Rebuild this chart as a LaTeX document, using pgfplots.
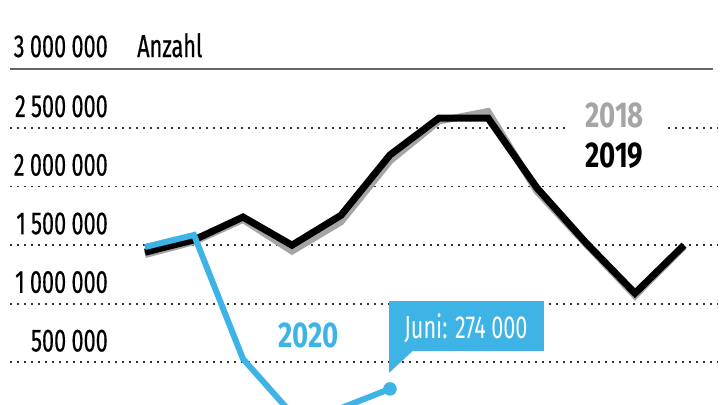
\documentclass[border=0pt]{standalone}
\usepackage{pgfplots}
\pgfplotsset{compat=1.18}
\usepackage{fontspec}
\setmainfont[FakeStretch=0.68]{Fira Sans}
\newfontfamily\lab[FakeStretch=0.68, FakeBold=0.5]{Fira Sans}
\newfontfamily\leg[FakeStretch=0.77]{Fira Sans}
\definecolor{cblue}{HTML}{3DB3E6}
\definecolor{cgray}{HTML}{A5A5A5}
\definecolor{cgrid}{HTML}{333333}
\begin{document}
\begin{tikzpicture}
\begin{axis}[
  width=720bp, height=405bp, scale only axis,
  xmin=-1.959, xmax=12.735, ymin=136500, ymax=3592000,
  axis line style={draw=none}, xtick=\empty, ytick=\empty,
  clip=true,
]
\coordinate (sw) at (rel axis cs:0,0);
\coordinate (ne) at (rel axis cs:1,1);
% grid
\pgfplotsinvokeforeach{500000,1000000,1500000,2000000,2500000}{
  \draw[cgrid, line width=1.8bp, dash pattern=on 1.8bp off 5.2bp]
    (axis cs:-1.755,#1) -- (axis cs:12.694,#1);
}
\draw[black!60, line width=2.2bp] (axis cs:-1.755,3000000) -- (axis cs:12.592,3000000);
% labels of y
\node[anchor=base east, inner sep=0, font=\fontsize{32}{32}\lab] at (axis cs:0.245,3105000) {3\,000\,000};
\node[anchor=base east, inner sep=0, font=\fontsize{32}{32}\lab] at (axis cs:0.245,2594000) {2\,500\,000};
\node[anchor=base east, inner sep=0, font=\fontsize{32}{32}\lab] at (axis cs:0.245,2094000) {2\,000\,000};
\node[anchor=base east, inner sep=0, font=\fontsize{32}{32}\lab] at (axis cs:0.245,1594000) {1\,500\,000};
\node[anchor=base east, inner sep=0, font=\fontsize{32}{32}\lab] at (axis cs:0.245,1094000) {1\,000\,000};
\node[anchor=base east, inner sep=0, font=\fontsize{32}{32}\lab] at (axis cs:0.245,594000) {500\,000};
\node[anchor=base west, inner sep=0, font=\fontsize{32}{32}\lab] at (axis cs:0.837,3105000) {Anzahl};
% 2018
\addplot[cgray, line width=7bp] coordinates {
(1,1420000) (2,1530000) (3,1720000) (4,1450000) (5,1700000) (6,2220000)
(7,2560000) (8,2640000) (9,1960000) (10,1510000) (11,1070000) (12,1490000)};
% 2019
\addplot[black, line width=7bp] coordinates {
(1,1440000) (2,1545000) (3,1740000) (4,1500000) (5,1755000) (6,2270000)
(7,2585000) (8,2585000) (9,1988000) (10,1520000) (11,1090000) (12,1500000)};
% 2020
\addplot[cblue, line width=6bp] coordinates {
(1,1485000) (2,1587000) (3,530000) (4,60000) (5,110000) (6,274000)};
\addplot[only marks, mark=*, mark size=6.5bp, cblue, mark options={fill=cblue, draw=cblue}] coordinates {(6,274000)};
% legend labels
\node[anchor=base west, inner xsep=20bp, inner ysep=1bp, fill=white, text=cgray, font=\fontsize{36}{36}\leg\bfseries] at (axis cs:9.572,2500000) {2018};
\node[anchor=base west, inner sep=0, text=black, font=\fontsize{36}{36}\leg\bfseries] at (axis cs:9.98,2159000) {2019};
\node[anchor=base west, inner sep=0, text=cblue, font=\fontsize{36}{36}\leg\bfseries] at (axis cs:3.714,631000) {2020};
% callout
\fill[cblue] (axis cs:5.98,597000) rectangle (axis cs:9.143,1024000);
\fill[cblue] (axis cs:5.98,600000) -- (axis cs:5.98,410000) -- (axis cs:6.47,600000) -- cycle;
\node[anchor=base, inner sep=0, text=white, font=\fontsize{32}{32}\selectfont] at (axis cs:7.55,708000) {Juni: 274\,000};
\end{axis}
\pgfresetboundingbox
\useasboundingbox (sw) rectangle (ne);
\end{tikzpicture}
\end{document}
